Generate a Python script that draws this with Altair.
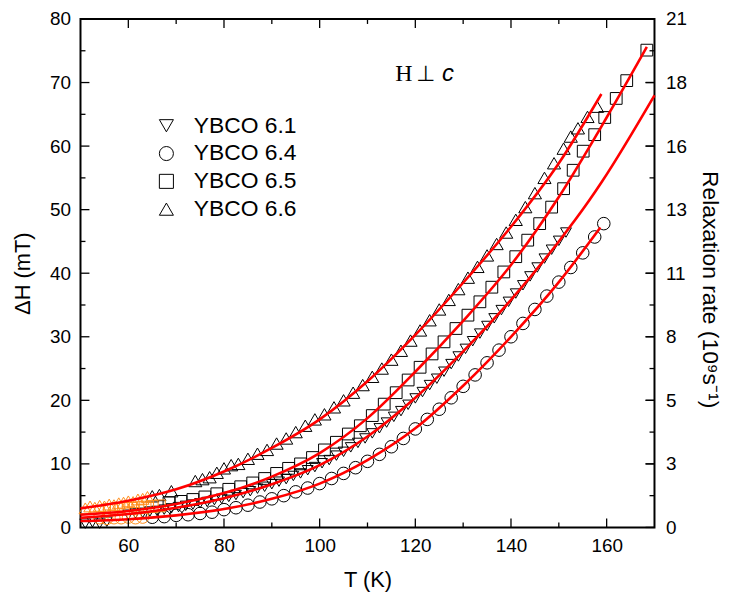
import altair as alt
import pandas as pd

# ---------------- data ----------------
series_names = ["YBCO 6.1", "YBCO 6.4", "YBCO 6.5", "YBCO 6.6"]
series_shapes = ["triangle-down", "circle", "square", "triangle-up"]

# YBCO 6.1 (down triangles)
t61 = [51, 52.5, 54, 55.5,
       60, 61.5, 63, 64.5, 66, 67.5, 69, 70.5, 72, 73.5, 75, 76.5, 78, 79.5,
       81, 82.5, 84, 85.5, 87, 88.5, 90, 91.5, 93, 94.5, 96, 97.5, 99, 100.5,
       102, 103.5, 105, 106.5, 108, 109.5, 111, 112.5, 114, 115.5, 117, 118.5,
       120, 121.5, 123, 124.5, 126, 127.5, 129, 130.5, 132, 133.5, 135, 136.5,
       138, 139.5, 141, 142.5, 144, 145.5, 147, 148.5, 150, 151.5]
h61 = [0.6, 0.8, 0.6, 0.9,
       2.0, 2.2, 2.3, 2.5, 2.6, 2.8, 3.0, 3.2, 3.4, 3.6, 3.8, 4.0, 4.3, 4.5,
       4.8, 5.1, 5.4, 5.7, 6.1, 6.4, 6.8, 7.2, 7.6, 8.1, 8.5, 9.0, 9.5, 10.1,
       10.6, 11.3, 11.9, 12.6, 13.3, 14.0, 14.8, 15.6, 16.5, 17.4, 18.3, 19.3,
       20.3, 21.3, 22.4, 23.4, 24.5, 25.7, 26.9, 28.1, 29.3, 30.5, 31.7, 32.9,
       34.2, 35.5, 36.8, 38.1, 39.5, 40.9, 42.3, 43.7, 45.1, 46.4]

# YBCO 6.4 (circles)
t64 = [65, 67.5, 70, 72.5, 75, 77.5, 80, 82.5, 85, 87.5, 90, 92.5, 95, 97.5,
       100, 102.5, 105, 107.5, 110, 112.5, 115, 117.5, 120, 122.5, 125, 127.5,
       130, 132.5, 135, 137.5, 140, 142.5, 145, 147.5, 150, 152.5, 155, 157.5, 159.4]
h64 = [1.6, 1.7, 1.9, 2.0, 2.2, 2.4, 2.8, 3.1, 3.5, 4.0, 4.5, 5.0, 5.6, 6.2,
       6.9, 7.7, 8.5, 9.4, 10.4, 11.5, 12.7, 14.0, 15.5, 17.0, 18.6, 20.4,
       22.2, 24.0, 25.9, 27.9, 30.0, 32.1, 34.3, 36.4, 38.6, 40.9, 43.2, 45.7, 47.8]

# YBCO 6.5 (squares)
t65 = [68.5, 71, 73.5, 76, 78.5, 81, 83.5, 86, 88.5, 91, 93.5, 96, 98.5, 101,
       103.5, 106, 108.5, 111, 113.5, 116, 118.5, 121, 123.5, 126, 128.5, 131,
       133.5, 136, 138.5, 141, 143.5, 146, 148.5, 151, 153, 155.1, 157.5, 159.6,
       162, 164.2, 168.4]
h65 = [3.9, 4.1, 4.4, 4.8, 5.3, 6.0, 6.4, 7.0, 7.7, 8.5, 9.3, 10.0, 11.0, 12.2,
       13.4, 14.7, 16.0, 17.6, 19.4, 21.2, 23.2, 25.2, 27.3, 29.2, 31.3, 33.4,
       35.5, 37.8, 40.2, 42.6, 45.2, 47.8, 50.4, 53.3, 56.2, 59.2, 61.8, 64.5,
       67.5, 70.3, 75.1]

# YBCO 6.6 (up triangles)
t66 = [65, 66.5, 69, 74, 75.5, 77, 78.5, 80, 81.5, 83, 85, 87, 89, 91, 93, 95,
       97, 99, 101, 103, 105, 107, 109, 111, 113, 115, 117, 119, 121, 123, 125,
       127, 129, 131, 133, 135, 137, 139, 141, 143, 145, 147, 149, 151, 152.5,
       154, 156, 158]
h66 = [4.9, 5.1, 5.7, 7.3, 7.6, 7.9, 8.6, 9.3, 9.8, 10.0, 10.8, 11.6, 12.2,
       13.2, 14.0, 15.0, 16.0, 17.0, 17.8, 18.9, 20.0, 21.2, 22.4, 23.7, 25.0,
       26.4, 27.8, 29.4, 31.0, 32.6, 34.3, 35.8, 37.5, 39.3, 41.0, 42.8, 44.6,
       46.4, 48.4, 50.4, 52.6, 55.0, 57.3, 59.6, 61.5, 62.8, 64.6, 66.2]

# low-temperature points drawn in orange
to_up = [51, 52, 53, 54, 55, 56, 57, 58, 59, 60, 61, 62, 63, 64]
ho_up = [3.0, 3.3, 3.1, 3.4, 3.3, 3.6, 3.5, 3.8, 3.9, 4.1, 4.0, 4.4, 4.5, 4.8]
to_sq = [56, 57.5, 59, 60.5, 62, 63.5, 65, 66.5]
ho_sq = [2.8, 2.9, 3.0, 3.0, 3.1, 3.2, 3.3, 3.4]
to_ci = [54, 55.5, 57, 58.5, 60, 61.5, 63]
ho_ci = [1.5, 1.4, 1.5, 1.5, 1.6, 1.5, 1.6]

# fitted curves (red)
fit_t61 = [50, 60, 70, 80, 90, 100, 110, 120, 130, 140, 150, 156.3, 159, 170]
fit_h61 = [1.5, 2.1, 3.1, 4.6, 6.8, 9.8, 14.3, 20.4, 27.7, 35.8, 45.0, 51.4, 54.4, 68.0]
fit_t64 = [50, 60, 70, 80, 90, 100, 110, 120, 130, 140, 150, 158.7]
fit_h64 = [1.0, 1.3, 1.9, 2.9, 4.5, 6.9, 10.6, 15.6, 22.3, 30.0, 38.6, 47.2]
fit_t65 = [50, 60, 70, 80, 90, 100, 110, 120, 130, 140, 150, 160, 168.4]
fit_h65 = [2.0, 2.6, 3.7, 5.4, 8.0, 11.7, 17.2, 24.5, 32.5, 41.3, 52.0, 64.5, 75.6]
fit_t66 = [50, 60, 70, 80, 90, 100, 110, 120, 130, 140, 150, 158.9]
fit_h66 = [3.0, 4.2, 6.0, 8.8, 12.5, 17.0, 23.0, 30.3, 38.5, 47.3, 57.3, 68.2]

# axis ticks
x_major = [60, 80, 100, 120, 140, 160]
x_minor = [70, 90, 110, 130, 150]
y_major = [10, 20, 30, 40, 50, 60, 70]
y_minor = [5, 15, 25, 35, 45, 55, 65, 75]
y_labels = [0, 10, 20, 30, 40, 50, 60, 70, 80]
rate_max = 21
rate_ticks = [v * rate_max / 80 for v in y_labels]

annot_text = ["H", "\u22a5", "c"]
annot_t = [117.6, 122.2, 126.8]
annot_h = [71.3, 71.3, 71.3]

# ---------------- build tables ----------------
def frame(ts, hs, name):
    return pd.DataFrame({"T": ts, "dH": hs, "series": name})

fits = pd.concat([frame(fit_t61, fit_h61, "YBCO 6.1"), frame(fit_t64, fit_h64, "YBCO 6.4"),
                  frame(fit_t65, fit_h65, "YBCO 6.5"), frame(fit_t66, fit_h66, "YBCO 6.6")])

W, H = 578, 512
FONT = "Liberation Sans"
ORANGE = "#FF8C1A"
TICK = 9
MTICK = 5

X = alt.X("T:Q", scale=alt.Scale(domain=[50, 170], nice=False, zero=False),
          axis=alt.Axis(title="T (K)", values=x_major, tickSize=0, domain=False,
                        grid=False, labelPadding=9, titlePadding=14,
                        labelFontSize=19, titleFontSize=22))
Y = alt.Y("dH:Q", scale=alt.Scale(domain=[0, 80], nice=False),
          axis=alt.Axis(title="\u0394H (mT)", values=y_labels, tickSize=0, domain=False,
                        grid=False, labelPadding=10, titlePadding=15,
                        labelFontSize=19, titleFontSize=22))

shape_scale = alt.Scale(domain=series_names, range=series_shapes)
legend = alt.Legend(orient="none", legendX=75, legendY=96, title=None,
                    labelFontSize=23, labelFont=FONT, labelColor="black",
                    symbolSize=200, symbolStrokeWidth=1,
                    symbolStrokeColor="black", symbolFillColor="white",
                    rowPadding=4, labelOffset=16, padding=0)

point_layers = []
for ts, hs, name, sz in [(t61, h61, "YBCO 6.1", 120), (t64, h64, "YBCO 6.4", 160),
                         (t65, h65, "YBCO 6.5", 140), (t66, h66, "YBCO 6.6", 175)]:
    point_layers.append(
        alt.Chart(frame(ts, hs, name)).mark_point(
            filled=False, color="black", strokeWidth=1, opacity=1, size=sz
        ).encode(x=X, y=Y, shape=alt.Shape("series:N", scale=shape_scale, legend=legend)))

def orange(ts, hs, shp, sz):
    return alt.Chart(pd.DataFrame({"T": ts, "dH": hs})).mark_point(
        shape=shp, filled=False, color=ORANGE, strokeWidth=1, size=sz, opacity=1
    ).encode(x=X, y=Y)

o_up = orange(to_up, ho_up, "triangle-up", 160)
o_sq = orange(to_sq, ho_sq, "square", 140)
o_ci = orange(to_ci, ho_ci, "circle", 150)

lines = alt.Chart(fits).mark_line(color="#FF0000", strokeWidth=2.6, interpolate="monotone").encode(
    x=X, y=Y, detail="series:N")

def xticks(vals, size):
    df = pd.DataFrame({"T": vals})
    bot = alt.Chart(df).mark_rule(color="black", strokeWidth=1.3).encode(
        x=X, y=alt.value(H), y2=alt.value(H - size))
    top = alt.Chart(df).mark_rule(color="black", strokeWidth=1.3).encode(
        x=X, y=alt.value(0), y2=alt.value(size))
    return [bot, top]

def yticks(vals, size):
    df = pd.DataFrame({"dH": vals})
    lft = alt.Chart(df).mark_rule(color="black", strokeWidth=1.3).encode(
        y=Y, x=alt.value(0), x2=alt.value(size))
    rgt = alt.Chart(df).mark_rule(color="black", strokeWidth=1.3).encode(
        y=Y, x=alt.value(W), x2=alt.value(W - size))
    return [lft, rgt]

annot_layers = []
fonts = [("Liberation Serif", "normal", 24), ("DejaVu Sans", "normal", 22), (FONT, "italic", 24)]
for txt, tt, hh, (fnt, sty, fs) in zip(annot_text, annot_t, annot_h, fonts):
    annot_layers.append(
        alt.Chart(pd.DataFrame({"T": [tt], "dH": [hh], "txt": [txt]})).mark_text(
            font=fnt, fontStyle=sty, fontSize=fs, color="black", align="center", baseline="middle"
        ).encode(x=X, y=Y, text="txt:N"))

main = alt.layer(*point_layers, o_up, o_sq, o_ci, lines,
                 *xticks(x_major, TICK), *xticks(x_minor, MTICK),
                 *yticks(y_major, TICK), *yticks(y_minor, MTICK),
                 *annot_layers)

right = alt.Chart(pd.DataFrame({"rate": rate_ticks})).mark_rule(color="black", strokeWidth=1.3).encode(
    y=alt.Y("rate:Q", scale=alt.Scale(domain=[0, rate_max], nice=False),
            axis=alt.Axis(orient="right", title="Relaxation rate (10\u2079s\u207b\u00b9)",
                          values=rate_ticks, labelExpr="round(datum.value)",
                          tickSize=0, domain=False, grid=False, labelPadding=11,
                          titlePadding=11, titleY=272, labelFontSize=19, titleFontSize=23)),
    x=alt.value(W), x2=alt.value(W - TICK))

chart = alt.layer(main, right).resolve_scale(y="independent").properties(
    width=W, height=H,
    padding={"left": 73, "top": 9, "right": 70, "bottom": 70},
    autosize=alt.AutoSizeParams(type="none"),
    background="white",
).configure_view(stroke="black", strokeWidth=2).configure_axis(
    labelFont=FONT, titleFont=FONT, labelColor="black", titleColor="black",
    titleFontWeight="normal"
)

chart.save("out.html", embed_options={"renderer": "svg", "actions": False})
